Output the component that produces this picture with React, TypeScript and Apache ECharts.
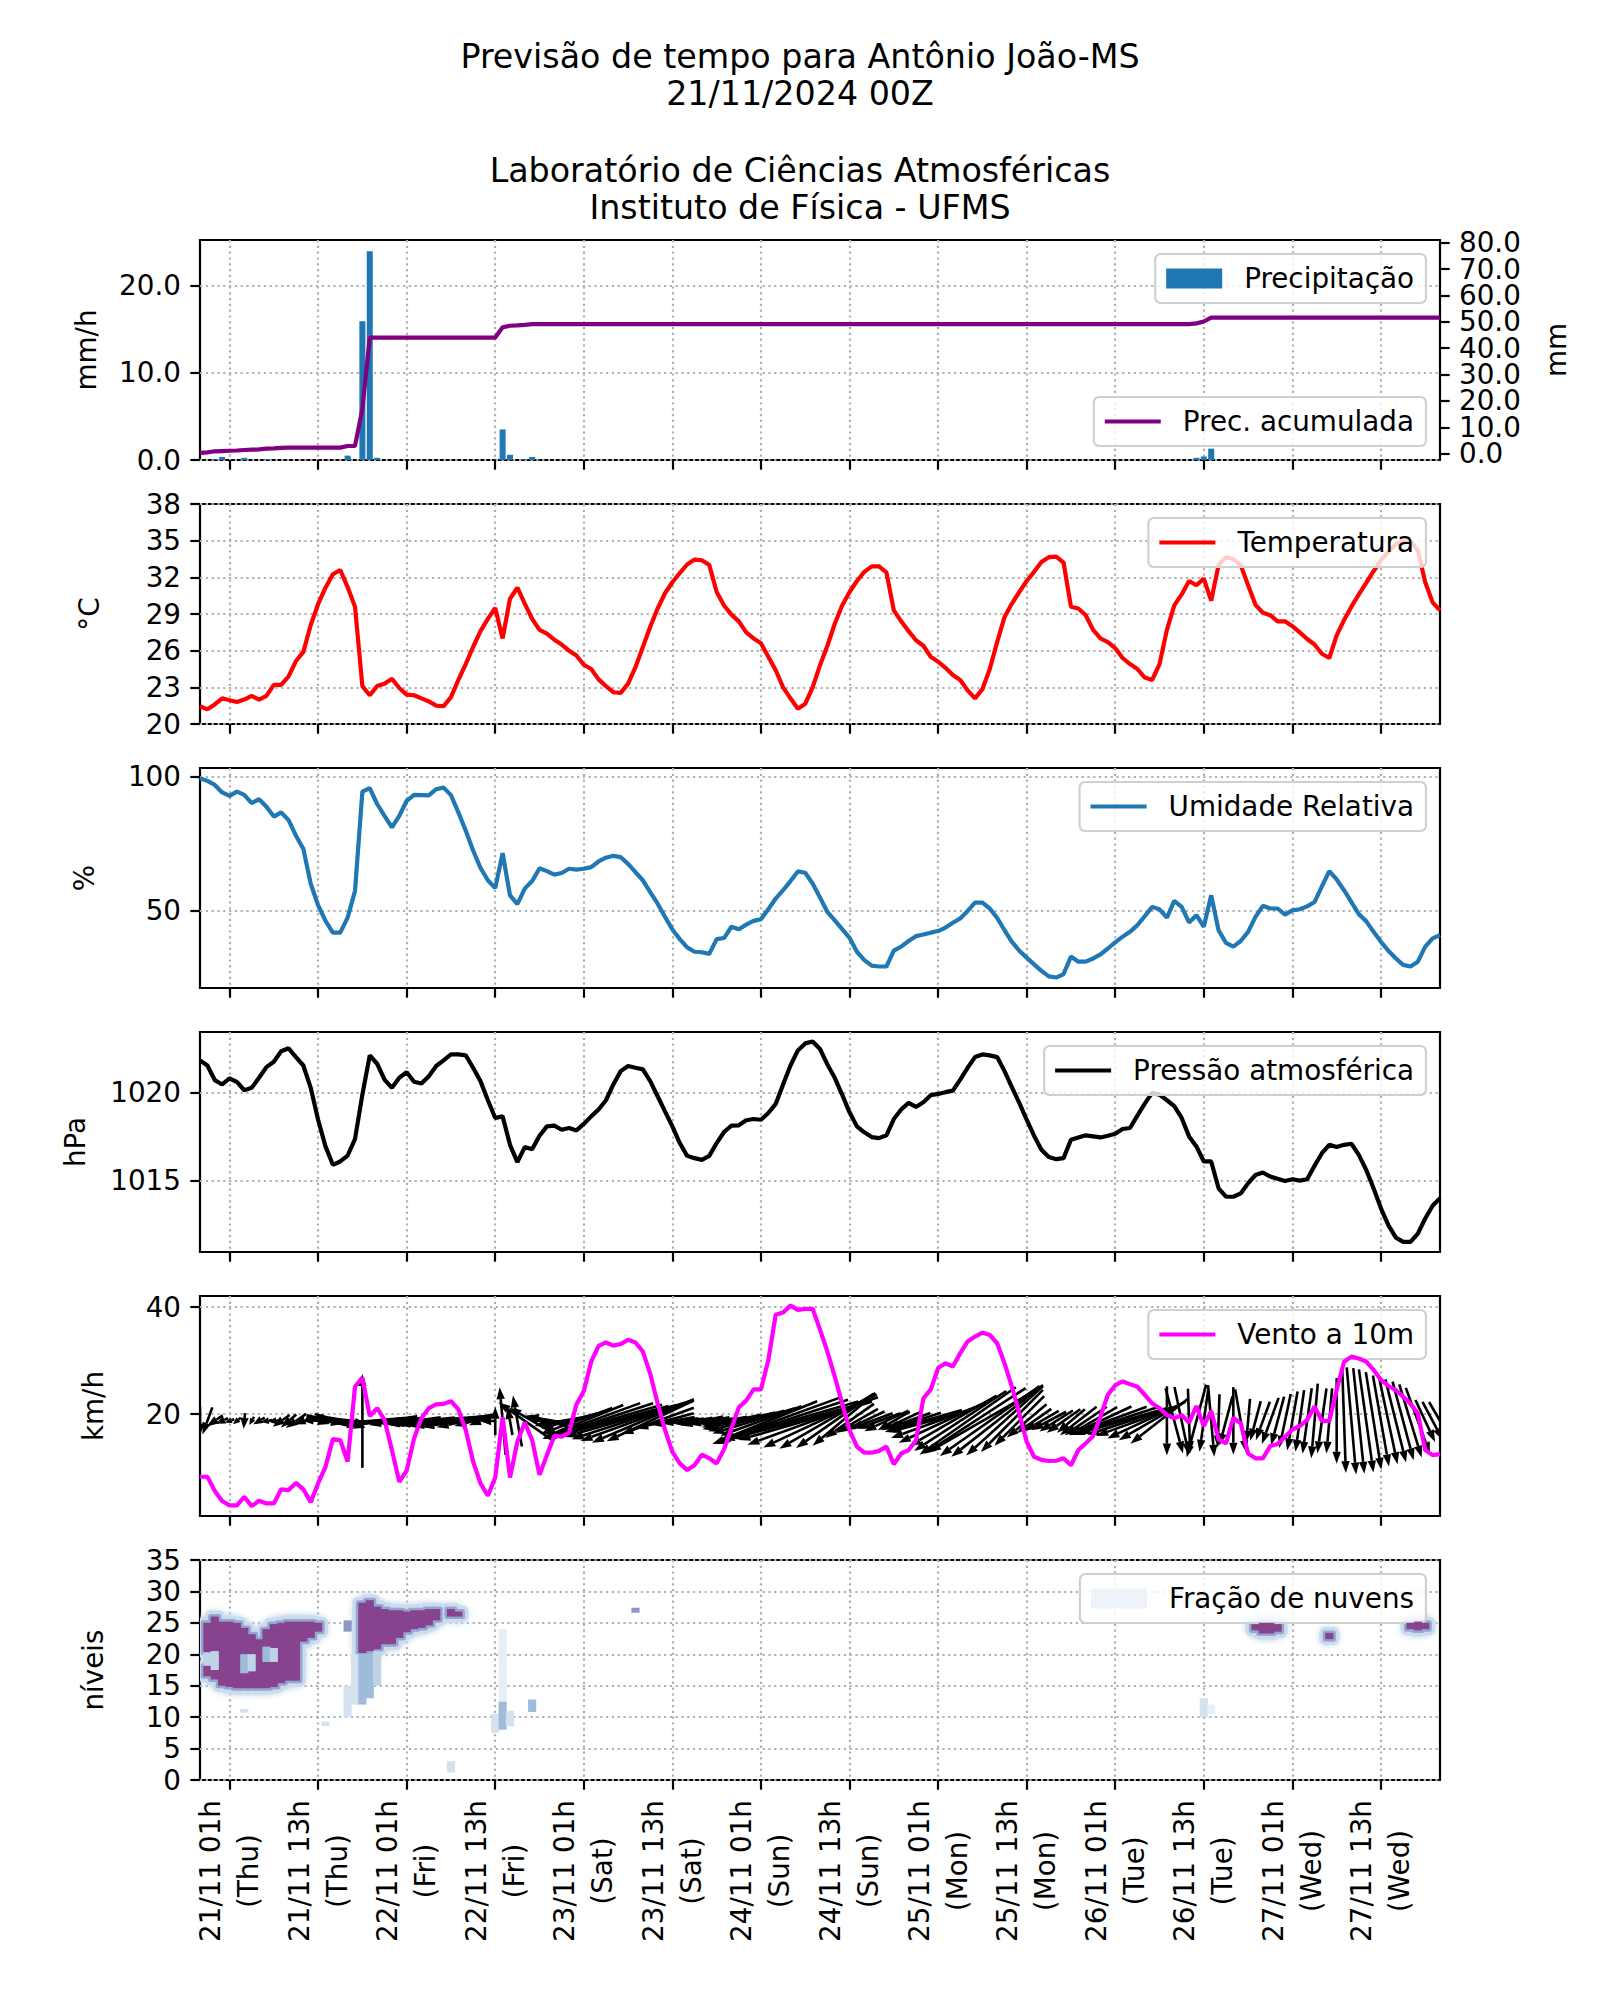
import React, { useEffect, useRef } from 'react';
import * as echarts from 'echarts';

// ---------------- DATA ----------------
// hourly values, index = hours since start (0..168)
const temperature = [
  21.45, 21.2, 21.6, 22.1, 21.95, 21.8, 22.0, 22.3, 22.0, 22.3,
  23.2, 23.2, 23.9, 25.15, 25.9, 28.1, 29.8, 31.15, 32.25, 32.6,
  31.2, 29.6, 23.1, 22.35, 23.1, 23.3, 23.7, 22.95, 22.4, 22.35,
  22.1, 21.85, 21.5, 21.45, 22.2, 23.6, 24.9, 26.3, 27.6, 28.6,
  29.5, 27.0, 30.25, 31.15, 29.85, 28.6, 27.7, 27.4, 26.9, 26.5,
  26.0, 25.6, 24.85, 24.5, 23.65, 23.1, 22.6, 22.55, 23.3, 24.65,
  26.3, 27.95, 29.45, 30.7, 31.6, 32.35, 33.05, 33.45, 33.4, 33.0,
  30.8, 29.7, 28.95, 28.4, 27.5, 27.0, 26.6, 25.5, 24.4, 23.0,
  22.1, 21.25, 21.65, 23.0, 24.8, 26.4, 28.2, 29.7, 30.8, 31.7,
  32.45, 32.9, 32.9, 32.4, 29.3, 28.4, 27.6, 26.85, 26.4, 25.5,
  25.1, 24.6, 24.0, 23.6, 22.75, 22.1, 22.85, 24.5, 26.7, 28.75,
  29.85, 30.8, 31.7, 32.45, 33.25, 33.65, 33.7, 33.2, 29.6, 29.45,
  28.9, 27.7, 27.0, 26.7, 26.2, 25.4, 24.9, 24.5, 23.8, 23.6,
  24.9, 27.7, 29.7, 30.6, 31.7, 31.35, 31.9, 30.1, 33.0, 33.65,
  33.5, 33.0, 31.35, 29.75, 29.1, 28.9, 28.4, 28.4, 28.0, 27.5,
  26.95, 26.5, 25.75, 25.4, 27.25, 28.5, 29.6, 30.6, 31.55, 32.5,
  33.4, 34.1, 34.7, 34.95, 34.95, 34.2, 31.6, 29.95, 29.3,
];

const humidity = [
  99.4, 98.4, 96.9, 94.1, 92.8, 94.4, 93.2, 90.1, 91.6, 88.8,
  85.1, 86.7, 83.8, 78.0, 73.1, 60.1, 52.1, 46.3, 41.9, 41.9,
  47.5, 57.4, 94.4, 95.7, 89.8, 85.4, 81.1, 85.4, 91.0, 93.2,
  93.1, 93.0, 95.3, 95.9, 93.1, 86.7, 79.9, 72.5, 66.0, 61.4,
  58.5, 71.5, 55.8, 52.5, 58.3, 61.1, 65.9, 64.8, 63.5, 64.1,
  65.7, 65.4, 65.7, 66.3, 68.4, 69.8, 70.5, 70.0, 67.5, 64.4,
  61.4, 57.0, 52.7, 47.8, 43.1, 39.5, 36.4, 34.8, 34.6, 34.0,
  39.5, 39.9, 44.1, 43.2, 44.9, 46.3, 46.9, 50.6, 54.6, 57.7,
  61.1, 64.7, 64.2, 60.2, 55.0, 49.6, 46.5, 43.2, 40.0, 34.8,
  31.7, 29.6, 29.3, 29.3, 35.2, 36.7, 38.8, 40.6, 41.2, 41.9,
  42.5, 43.8, 45.6, 47.2, 50.0, 53.1, 53.1, 50.9, 47.4, 42.8,
  38.5, 35.2, 32.6, 30.1, 27.7, 25.6, 25.2, 26.5, 33.0, 31.1,
  31.1, 32.3, 33.8, 36.0, 38.3, 40.4, 42.2, 44.7, 48.0, 51.5,
  50.6, 47.5, 53.7, 51.5, 45.7, 48.4, 44.1, 55.8, 42.8, 38.1,
  36.7, 38.8, 42.2, 47.8, 51.9, 50.9, 50.9, 48.6, 50.2, 50.6,
  51.7, 53.3, 59.1, 64.8, 61.7, 57.7, 53.3, 48.8, 46.2, 42.2,
  38.5, 35.2, 32.4, 29.9, 29.3, 31.1, 36.7, 39.8, 41.0,
];

const pressure = [
  1021.85, 1021.56, 1020.73, 1020.48, 1020.82, 1020.63, 1020.15, 1020.29, 1020.86, 1021.47,
  1021.77, 1022.37, 1022.54, 1022.04, 1021.56, 1020.29, 1018.47, 1016.95, 1015.9, 1016.09,
  1016.43, 1017.37, 1019.9, 1022.14, 1021.66, 1020.76, 1020.29, 1020.86, 1021.18, 1020.63,
  1020.53, 1020.95, 1021.53, 1021.85, 1022.19, 1022.19, 1022.14, 1021.43, 1020.67, 1019.58,
  1018.57, 1018.66, 1017.04, 1016.05, 1016.91, 1016.79, 1017.56, 1018.09, 1018.13, 1017.9,
  1018.0, 1017.86, 1018.23, 1018.66, 1019.05, 1019.58, 1020.48, 1021.24, 1021.53, 1021.43,
  1021.34, 1020.67, 1019.81, 1018.95, 1018.09, 1017.14, 1016.41, 1016.28, 1016.18, 1016.41,
  1017.14, 1017.77, 1018.13, 1018.15, 1018.44, 1018.51, 1018.47, 1018.85, 1019.37, 1020.48,
  1021.56, 1022.42, 1022.82, 1022.93, 1022.5, 1021.62, 1020.86, 1019.9, 1018.89, 1018.09,
  1017.75, 1017.48, 1017.42, 1017.58, 1018.51, 1019.05, 1019.43, 1019.2, 1019.47, 1019.87,
  1019.94, 1020.04, 1020.13, 1020.76, 1021.43, 1022.04, 1022.19, 1022.14, 1022.04, 1021.24,
  1020.32, 1019.43, 1018.47, 1017.56, 1016.76, 1016.34, 1016.22, 1016.28, 1017.33, 1017.46,
  1017.58, 1017.52, 1017.46, 1017.56, 1017.67, 1017.94, 1018.0, 1018.7, 1019.39, 1020.0,
  1019.9, 1019.58, 1019.24, 1018.57, 1017.52, 1016.95, 1016.09, 1016.09, 1014.56, 1014.08,
  1014.08, 1014.27, 1014.85, 1015.32, 1015.46, 1015.23, 1015.1, 1014.98, 1015.08, 1015.0,
  1015.08, 1015.84, 1016.56, 1017.04, 1016.91, 1017.04, 1017.1, 1016.47, 1015.61, 1014.56,
  1013.42, 1012.46, 1011.76, 1011.51, 1011.51, 1011.98, 1012.84, 1013.57, 1013.99,
];

const windSpeed = [
  8.25, 8.25, 5.6, 3.7, 2.9, 2.9, 4.5, 2.75, 3.75, 3.25,
  3.25, 5.9, 5.75, 7.1, 5.9, 3.5, 7.0, 10.1, 15.3, 15.1,
  11.1, 25.1, 26.8, 19.6, 21.1, 18.9, 13.25, 7.3, 9.4, 15.4,
  19.2, 21.1, 21.8, 21.9, 22.4, 20.9, 17.0, 11.1, 7.0, 4.7,
  8.1, 19.4, 8.1, 14.8, 18.4, 15.1, 8.6, 12.3, 15.9, 15.75,
  16.5, 21.8, 24.3, 29.8, 32.75, 33.4, 32.8, 33.1, 33.9, 33.4,
  31.7, 27.5, 22.0, 17.0, 12.9, 10.75, 9.5, 10.4, 12.4, 11.7,
  10.75, 13.4, 17.3, 21.25, 22.5, 24.6, 24.6, 30.1, 38.6, 39.0,
  40.3, 39.5, 39.7, 39.7, 35.8, 31.7, 27.0, 22.0, 17.0, 13.9,
  12.75, 12.75, 13.1, 13.9, 10.6, 12.6, 13.25, 15.0, 22.9, 24.6,
  28.6, 29.5, 28.9, 31.4, 33.6, 34.5, 35.25, 34.8, 33.25, 29.5,
  25.1, 20.1, 14.8, 12.0, 11.4, 11.2, 11.25, 11.7, 10.4, 13.25,
  14.5, 15.9, 19.5, 23.6, 25.4, 26.1, 25.6, 25.1, 23.6, 22.0,
  21.1, 19.8, 19.2, 19.8, 18.4, 21.5, 17.75, 20.6, 15.25, 14.5,
  19.3, 18.25, 12.6, 11.7, 11.7, 14.0, 14.4, 15.75, 17.1, 17.75,
  18.9, 21.4, 18.7, 18.7, 24.5, 29.8, 30.75, 30.4, 29.8, 28.25,
  26.4, 25.25, 24.5, 23.25, 21.9, 20.1, 13.25, 12.3, 12.5,
];

// arrow direction on the page, degrees (0 = pointing right, 90 = up)
const windArrowDir = [
  270, 250, 215, 205, 200, 220, 265, 240, 210, 190,
  185, 215, 220, 215, 200, 185, 345, 350, 348, 345,
  350, 175, 90, 185, 183, 188, 190, 195, 192, 188,
  186, 185, 186, 187, 188, 190, 192, 195, 200, 180,
  90, 95, 100, 100, 145, 150, 160, 165, 170, 190,
  195, 200, 202, 200, 198, 196, 195, 196, 198, 200,
  203, 205, 200, 195, 190, 188, 188, 190, 192, 190,
  188, 190, 192, 193, 195, 197, 200, 202, 200, 198,
  196, 195, 196, 200, 205, 210, 215, 220, 215, 210,
  205, 200, 200, 205, 210, 205, 200, 198, 196, 195,
  200, 205, 210, 213, 215, 213, 210, 215, 218, 222,
  225, 225, 220, 215, 210, 208, 212, 215, 220, 218,
  214, 210, 205, 200, 198, 196, 198, 200, 205, 210,
  218, 270, 285, 282, 272, 255, 262, 275, 268, 255,
  270, 280, 265, 255, 250, 250, 255, 258, 260, 262,
  262, 265, 262, 265, 270, 272, 275, 276, 278, 279,
  280, 282, 284, 285, 287, 290, 295, 298, 300,
];

// hourly precipitation (mm/h), only non-zero hours
const precipHours = [2, 3, 6, 9, 20, 22, 23, 24, 41, 42, 44, 45, 135, 136, 137];
const precipValues = [0.1, 0.35, 0.25, 0.1, 0.5, 15.9, 23.9, 0.25, 3.5, 0.6, 0.1, 0.35, 0.25, 0.4, 1.3];

// accumulated precipitation (mm)
const accHours = [0, 1, 2, 3, 4, 5, 6, 7, 8, 9, 10, 11, 12, 19, 20, 21, 22, 23, 40, 41, 42, 43, 44, 45, 134, 135, 136, 137, 168];
const accValues = [0.3, 0.5, 0.9, 1.0, 1.1, 1.2, 1.4, 1.5, 1.6, 1.9, 2.0, 2.2, 2.3, 2.3, 2.9, 2.9, 17.0, 44.0, 44.0, 47.9, 48.5, 48.6, 48.8, 49.1, 49.1, 49.4, 50.1, 51.6, 51.6];

// cloud fraction cells: [hour, level bottom, level top, fraction]
const cloudCells = [
  [1, 16.5, 18.2, 0.9], [1, 20.3, 25.0, 0.9],
  [2, 16.0, 17.5, 0.9], [2, 20.5, 26.0, 0.9],
  [3, 15.0, 25.2, 0.9], [4, 14.8, 25.2, 0.9], [5, 14.6, 25.0, 0.9],
  [6, 14.6, 17.0, 0.9], [6, 20.0, 24.2, 0.9],
  [7, 14.6, 17.3, 0.9], [7, 20.0, 23.2, 0.9],
  [8, 14.6, 22.4, 0.9],
  [9, 14.6, 18.8, 0.9], [9, 21.2, 24.0, 0.9],
  [10, 14.8, 18.8, 0.9], [10, 21.0, 24.8, 0.9],
  [11, 15.4, 25.0, 0.9], [12, 15.8, 25.2, 0.9], [13, 15.8, 25.2, 0.9],
  [14, 22.0, 25.2, 0.9], [15, 22.6, 25.2, 0.9], [16, 23.6, 25.0, 0.9],
  [22, 20.2, 28.2, 0.9], [23, 20.5, 28.6, 0.9], [24, 20.8, 27.6, 0.9], [25, 21.6, 27.2, 0.9],
  [26, 21.6, 27.0, 0.9], [27, 22.6, 27.0, 0.9], [28, 23.5, 26.8, 0.9], [29, 24.0, 27.0, 0.9],
  [30, 24.2, 27.0, 0.9], [31, 24.6, 27.2, 0.9], [32, 25.4, 27.2, 0.9],
  [34, 26.0, 27.2, 0.9], [35, 26.0, 26.8, 0.9],
  [143, 23.8, 24.8, 0.9], [144, 23.3, 25.0, 0.9], [145, 23.3, 25.0, 0.9], [146, 23.6, 24.8, 0.9],
  [153, 22.4, 23.4, 0.9],
  [164, 24.0, 25.0, 0.9], [165, 23.8, 25.2, 0.9], [166, 24.0, 25.0, 0.9],
  [1, 18.2, 20.3, 0.3], [2, 17.5, 20.5, 0.2], [6, 17.0, 20.0, 0.35], [7, 17.3, 20.0, 0.3],
  [9, 18.8, 21.2, 0.35], [10, 18.8, 21.0, 0.3],
  [6, 10.7, 11.3, 0.15], [17, 8.6, 9.3, 0.15],
  [20, 23.6, 25.4, 0.55], [20, 10.0, 15.0, 0.12],
  [21, 12.0, 20.0, 0.15], [22, 12.0, 20.0, 0.35], [23, 13.0, 20.0, 0.4], [24, 15.0, 20.5, 0.25],
  [34, 1.2, 3.0, 0.15],
  [40, 7.5, 10.5, 0.15], [41, 8.0, 12.5, 0.4], [41, 12.5, 24.0, 0.1], [42, 8.5, 11.0, 0.15],
  [45, 10.8, 12.8, 0.35],
  [59, 26.6, 27.4, 0.6],
  [136, 10.0, 13.0, 0.15], [137, 10.5, 12.0, 0.1],
];

// x ticks
const tickHours = [4, 16, 28, 40, 52, 64, 76, 88, 100, 112, 124, 136, 148, 160];
const tickDates = ['21/11 01h', '21/11 13h', '22/11 01h', '22/11 13h', '23/11 01h', '23/11 13h', '24/11 01h', '24/11 13h', '25/11 01h', '25/11 13h', '26/11 01h', '26/11 13h', '27/11 01h', '27/11 13h'];
const tickDays = ['(Thu)', '(Thu)', '(Fri)', '(Fri)', '(Sat)', '(Sat)', '(Sun)', '(Sun)', '(Mon)', '(Mon)', '(Tue)', '(Tue)', '(Wed)', '(Wed)'];

const titleLines = ['Previsão de tempo para Antônio João-MS', '21/11/2024 00Z', 'Laboratório de Ciências Atmosféricas', 'Instituto de Física - UFMS'];

// y ticks
const precipTicks = [0, 10, 20];
const accTicks = [0, 10, 20, 30, 40, 50, 60, 70, 80];
const accLabelsEven = [0, 20, 40, 60, 80];
const accLabelsOdd = [10, 30, 50, 70];
const tempTicks = [20, 23, 26, 29, 32, 35, 38];
const rhTicks = [50, 100];
const presTicks = [1015, 1020];
const windTicks = [20, 40];
const levelTicks = [0, 5, 10, 15, 20, 25, 30, 35];

// ---------------- STYLE ----------------
const FONT = 'DejaVu Sans';
const FS = 27.8;
const GRID_TOPS = [240, 504, 768, 1032, 1296, 1560];
const GRID_H = 220;
const GRID_L = 200;
const GRID_W = 1240;
const ARROW_BASE = 18.7;
const ARROW_SCALE = 3.5;
const dotted = { color: '#b0b0b0', width: 2.2, type: [2.2, 3.6] };

function bupu(f: number) {
  if (f < 0.12) return '#e6eef6';
  if (f < 0.2) return '#d4e2ef';
  if (f < 0.35) return '#bfd3e6';
  if (f < 0.5) return '#9ebcda';
  if (f < 0.65) return '#8c96c6';
  if (f < 0.8) return '#8c6bb1';
  return '#87438d';
}

function xAx(gridIndex: number, labels: boolean) {
  return {
    type: 'value', gridIndex, min: 0, max: 168,
    axisLine: { show: false },
    axisTick: { show: true, length: 9.7, lineStyle: { color: '#000', width: 2.2 }, customValues: tickHours },
    axisLabel: labels ? {
      show: true, customValues: tickHours, rotate: 90, margin: 18,
      formatter: (v: number) => {
        const i = tickHours.indexOf(Math.round(v));
        return i < 0 ? '' : `{a|${tickDates[i]}}\n{a|${tickDays[i]}}`;
      },
      rich: { a: { width: 146, align: 'center', fontSize: FS, fontFamily: FONT, color: '#000', lineHeight: 38 } },
    } : { show: false },
    splitLine: { show: true, lineStyle: dotted },
  };
}

function yAx(gridIndex: number, min: number, max: number, ticks: number[], fmt: (v: number) => string, name: string, nameGap: number, extra: any = {}) {
  return {
    type: 'value', gridIndex, min, max,
    axisLine: { show: false },
    axisTick: { show: true, length: 9.7, lineStyle: { color: '#000', width: 2.2 }, customValues: ticks },
    axisLabel: {
      customValues: ticks, formatter: fmt, color: '#000', fontSize: FS, fontFamily: FONT, margin: 19,
      showMinLabel: true, showMaxLabel: true,
    },
    splitLine: { show: true, lineStyle: dotted },
    name, nameLocation: 'middle', nameRotate: 90, nameGap,
    nameTextStyle: { fontSize: FS, fontFamily: FONT, color: '#000', verticalAlign: 'middle' },
    ...extra,
  };
}

function leg(name: string, pos: any, iconH: number, itemStyle?: any) {
  return {
    data: [itemStyle ? { name, icon: 'rect', itemStyle } : { name, icon: 'rect' }],
    right: 174, ...pos,
    itemWidth: 56, itemHeight: iconH,
    padding: [10, 12, 10, 11],
    backgroundColor: 'rgba(255,255,255,0.8)',
    borderColor: '#d0d0d0', borderWidth: 2.2, borderRadius: 5.5,
    textStyle: { fontSize: FS, fontFamily: FONT, color: '#000', padding: [0, 0, 0, 17], lineHeight: 29 },
    selectedMode: false,
  };
}

function cloudSeries(name: string, expand: number, colorFn: (f: number) => string, onlyCore: boolean, z: number, blur: number) {
  const data = cloudCells.filter((c) => !onlyCore || c[3] >= 0.8);
  return {
    type: 'custom', name, xAxisIndex: 5, yAxisIndex: 6, z, clip: true,
    encode: { x: 0, y: [1, 2] },
    data,
    renderItem: (_p: any, api: any) => {
      const h = api.value(0), lo = api.value(1), hi = api.value(2), f = api.value(3);
      const a = api.coord([h - 0.5, hi]);
      const b = api.coord([h + 0.5, lo]);
      const col = colorFn(f);
      const style: any = { fill: col };
      if (blur > 0) { style.shadowBlur = blur; style.shadowColor = col; }
      return {
        type: 'rect',
        shape: { x: a[0] - expand - 0.4, y: a[1] - expand, width: b[0] - a[0] + 2 * expand + 0.8, height: b[1] - a[1] + 2 * expand, r: expand > 0 ? expand : 0 },
        style,
      };
    },
  };
}

export default function App() {
  const ref = useRef<HTMLDivElement>(null);
  useEffect(() => {
    document.body.style.margin = '0';
    if (!ref.current) return;
    const chart = echarts.init(ref.current, null, { renderer: 'svg' });
    const hrs = (arr: number[]) => arr.map((v, i) => [i, v]);
    const rightCommon = { position: 'right', splitLine: { show: false } };

    const option: any = {
      animation: false,
      backgroundColor: '#fff',
      textStyle: { fontFamily: FONT },
      title: titleLines.map((t, i) => ({
        text: t, left: 'center', top: [37.5, 74.5, 151.5, 188.5][i], padding: 0,
        textStyle: { fontSize: 33.3, fontWeight: 'normal', fontFamily: FONT, color: '#000', lineHeight: 37 },
      })),
      grid: GRID_TOPS.map((t) => ({
        left: GRID_L, top: t, width: GRID_W, height: GRID_H, show: true,
        borderColor: '#000', borderWidth: 2.2, backgroundColor: 'transparent', containLabel: false,
      })),
      legend: [
        leg('Precipitação', { top: 254 }, 20),
        leg('Prec. acumulada', { top: 397 }, 4.2),
        leg('Temperatura', { top: 518 }, 4.2),
        leg('Umidade Relativa', { top: 782 }, 4.2),
        leg('Pressão atmosférica', { top: 1046 }, 4.2),
        leg('Vento a 10m', { top: 1310 }, 4.2),
        leg('Fração de nuvens', { top: 1574 }, 20, { color: '#edf3f9' }),
      ],
      xAxis: [0, 1, 2, 3, 4, 5].map((g) => xAx(g, g === 5)),
      yAxis: [
        yAx(0, 0, 25.2, precipTicks, (v) => v.toFixed(1), 'mm/h', 114),
        (() => {
          const ax: any = yAx(0, -2.4, 81, accTicks, (v) => v.toFixed(1), 'mm', 116, rightCommon);
          ax.axisLabel = { ...ax.axisLabel, customValues: accLabelsEven };
          return ax;
        })(),
        yAx(1, 20, 38, tempTicks, (v) => String(v), '°C', 111),
        yAx(2, 21.3, 103.2, rhTicks, (v) => String(v), '%', 116),
        yAx(3, 1010.93, 1023.47, presTicks, (v) => String(v), 'hPa', 125),
        yAx(4, 0.9, 42.1, windTicks, (v) => String(v), 'km/h', 107),
        yAx(5, 0, 35, levelTicks, (v) => String(v), 'níveis', 107),
        (() => {
          const ax: any = yAx(0, -2.4, 81, accLabelsOdd, (v) => v.toFixed(1), '', 116, rightCommon);
          ax.axisTick = { show: false };
          ax.name = '';
          return ax;
        })(),
      ],
      series: [
        {
          type: 'bar', name: 'Precipitação', xAxisIndex: 0, yAxisIndex: 0,
          data: precipHours.map((h, i) => [h, precipValues[i]]),
          barWidth: 6, itemStyle: { color: '#1f77b4' }, z: 2,
        },
        {
          type: 'line', name: 'Prec. acumulada', xAxisIndex: 0, yAxisIndex: 1,
          data: accHours.map((h, i) => [h, accValues[i]]),
          symbol: 'none', lineStyle: { color: '#800080', width: 4.2 }, itemStyle: { color: '#800080' }, z: 3,
        },
        {
          type: 'line', name: 'Temperatura', xAxisIndex: 1, yAxisIndex: 2, data: hrs(temperature),
          symbol: 'none', lineStyle: { color: '#ff0000', width: 4.2 }, itemStyle: { color: '#ff0000' },
        },
        {
          type: 'line', name: 'Umidade Relativa', xAxisIndex: 2, yAxisIndex: 3, data: hrs(humidity),
          symbol: 'none', lineStyle: { color: '#1f77b4', width: 4.2 }, itemStyle: { color: '#1f77b4' },
        },
        {
          type: 'line', name: 'Pressão atmosférica', xAxisIndex: 3, yAxisIndex: 4, data: hrs(pressure),
          symbol: 'none', lineStyle: { color: '#000000', width: 4.2 }, itemStyle: { color: '#000000' },
        },
        {
          type: 'custom', name: 'setas', xAxisIndex: 4, yAxisIndex: 5, z: 2, clip: true,
          encode: { x: 0, y: 2 },
          data: windArrowDir.map((d, i) => [i, d, windSpeed[i]]),
          renderItem: (_p: any, api: any) => {
            const h = api.value(0), dir = api.value(1), spd = api.value(2);
            const c = api.coord([h, ARROW_BASE]);
            const L = spd * ARROW_SCALE;
            const a = (dir * Math.PI) / 180;
            const dx = Math.cos(a), dy = -Math.sin(a);
            const tip = [c[0] + (dx * L) / 2, c[1] + (dy * L) / 2];
            const tail = [c[0] - (dx * L) / 2, c[1] - (dy * L) / 2];
            const hl = Math.min(12, L * 0.7);
            const hw = Math.min(4.2, L * 0.3);
            const base = [tip[0] - dx * hl, tip[1] - dy * hl];
            const px = -dy, py = dx;
            return {
              type: 'group',
              children: [
                { type: 'line', shape: { x1: tail[0], y1: tail[1], x2: base[0], y2: base[1] }, style: { stroke: '#000', lineWidth: 2.6 } },
                { type: 'polygon', shape: { points: [tip, [base[0] + px * hw, base[1] + py * hw], [base[0] - px * hw, base[1] - py * hw]] }, style: { fill: '#000' } },
              ],
            };
          },
        },
        {
          type: 'line', name: 'Vento a 10m', xAxisIndex: 4, yAxisIndex: 5, data: hrs(windSpeed), z: 4,
          symbol: 'none', lineStyle: { color: '#ff00ff', width: 4.2 }, itemStyle: { color: '#ff00ff' },
        },
        cloudSeries('nuvens-halo', 6, () => '#cddcec', true, 2, 6),
        cloudSeries('nuvens-borda', 2.5, () => '#94a7d2', true, 3, 0),
        cloudSeries('Fração de nuvens', 0, bupu, false, 4, 0),
      ],
    };
    chart.setOption(option);
    return () => chart.dispose();
  }, []);
  return <div ref={ref} style={{ width: 1600, height: 2000 }} />;
}
